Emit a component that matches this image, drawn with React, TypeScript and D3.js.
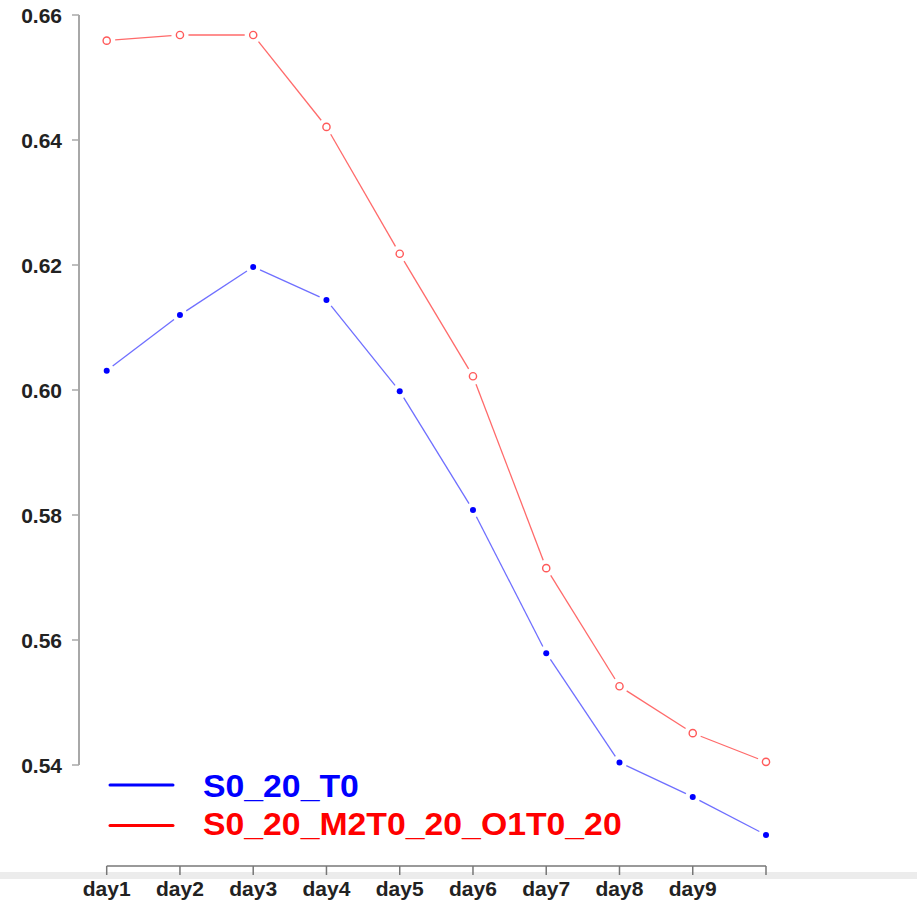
import React from "react";
import * as d3 from "d3";

const days = ["day1", "day2", "day3", "day4", "day5", "day6", "day7", "day8", "day9", ""];
const seriesT0 = [0.6031, 0.612, 0.6197, 0.6144, 0.5998, 0.5808, 0.5579, 0.5404, 0.5349, 0.5288];
const seriesM2O1 = [0.6559, 0.6568, 0.6568, 0.6421, 0.6218, 0.6022, 0.5715, 0.5526, 0.5451, 0.5405];
const yTicks = [0.54, 0.56, 0.58, 0.6, 0.62, 0.64, 0.66];
const legendLabels = ["S0_20_T0", "S0_20_M2T0_20_O1T0_20"];

const W = 919;
const H = 903;
const FONT = "'Liberation Sans', Arial, Helvetica, sans-serif";

const x = d3.scalePoint<string>().domain(days.map((d, i) => String(i))).range([106.7, 766]);
const y = d3.scaleLinear().domain([0.54, 0.66]).range([765, 15]);

// line segments between consecutive points, trimmed near each marker (type "b")
function segments(vals: number[], gap: number) {
  const out: { x1: number; y1: number; x2: number; y2: number }[] = [];
  for (let i = 0; i < vals.length - 1; i++) {
    const ax = x(String(i))!, ay = y(vals[i]);
    const bx = x(String(i + 1))!, by = y(vals[i + 1]);
    const len = Math.hypot(bx - ax, by - ay);
    const ux = (bx - ax) / len, uy = (by - ay) / len;
    out.push({ x1: ax + ux * gap, y1: ay + uy * gap, x2: bx - ux * gap, y2: by - uy * gap });
  }
  return out;
}

export default function App() {
  const blueSegs = segments(seriesT0, 7.5);
  const redSegs = segments(seriesM2O1, 8.5);
  return (
    <svg width={W} height={H} style={{ position: "absolute", left: 0, top: 0, background: "#fff" }}>
      <rect x={0} y={0} width={W} height={H} fill="#fff" />
      {/* light band along the bottom */}
      <rect x={0} y={872} width={917} height={7} fill="#ececec" />

      {/* y axis */}
      <line x1={79} x2={79} y1={y(0.66)} y2={y(0.54)} stroke="#a8a8a8" strokeWidth={2} />
      {yTicks.map((t) => (
        <g key={t}>
          <line x1={72} x2={79} y1={y(t)} y2={y(t)} stroke="#a8a8a8" strokeWidth={1.5} />
          <text x={62} y={y(t) + 8} textAnchor="end" fontFamily={FONT} fontWeight="bold" fontSize={21} fill="#222">
            {t.toFixed(2)}
          </text>
        </g>
      ))}

      {/* x axis */}
      <line x1={x("0")} x2={x("9")} y1={866} y2={866} stroke="#777" strokeWidth={1.5} />
      {days.map((d, i) => (
        <g key={i}>
          <line x1={x(String(i))} x2={x(String(i))} y1={866} y2={875} stroke="#777" strokeWidth={1.5} />
          {d && (
            <text x={x(String(i))} y={896} textAnchor="middle" fontFamily={FONT} fontWeight="bold" fontSize={21} fill="#222">
              {d}
            </text>
          )}
        </g>
      ))}

      {/* S0_20_T0 */}
      {blueSegs.map((s, i) => (
        <line key={i} {...s} stroke="#6f6fff" strokeWidth={1.3} />
      ))}
      {seriesT0.map((v, i) => (
        <circle key={i} cx={x(String(i))} cy={y(v)} r={3} fill="#0000ff" />
      ))}

      {/* S0_20_M2T0_20_O1T0_20 */}
      {redSegs.map((s, i) => (
        <line key={i} {...s} stroke="#ff6a6a" strokeWidth={1.3} />
      ))}
      {seriesM2O1.map((v, i) => (
        <circle key={i} cx={x(String(i))} cy={y(v)} r={3.6} fill="#fff" stroke="#ff5a5a" strokeWidth={1.4} />
      ))}

      {/* legend */}
      {legendLabels.map((lab, i) => {
        const col = i === 0 ? "#0000ff" : "#ff0000";
        const ly = 785 + i * 40.5;
        const ty = 797 + i * 38;
        return (
          <g key={lab}>
            <line x1={110} x2={173} y1={ly} y2={ly} stroke={col} strokeWidth={3} strokeLinecap="round" />
            <text
              transform={`translate(203,${ty}) scale(1.09,1)`}
              fontFamily={FONT}
              fontWeight="bold"
              fontSize={31}
              fill={col}
            >
              {lab}
            </text>
          </g>
        );
      })}
    </svg>
  );
}
